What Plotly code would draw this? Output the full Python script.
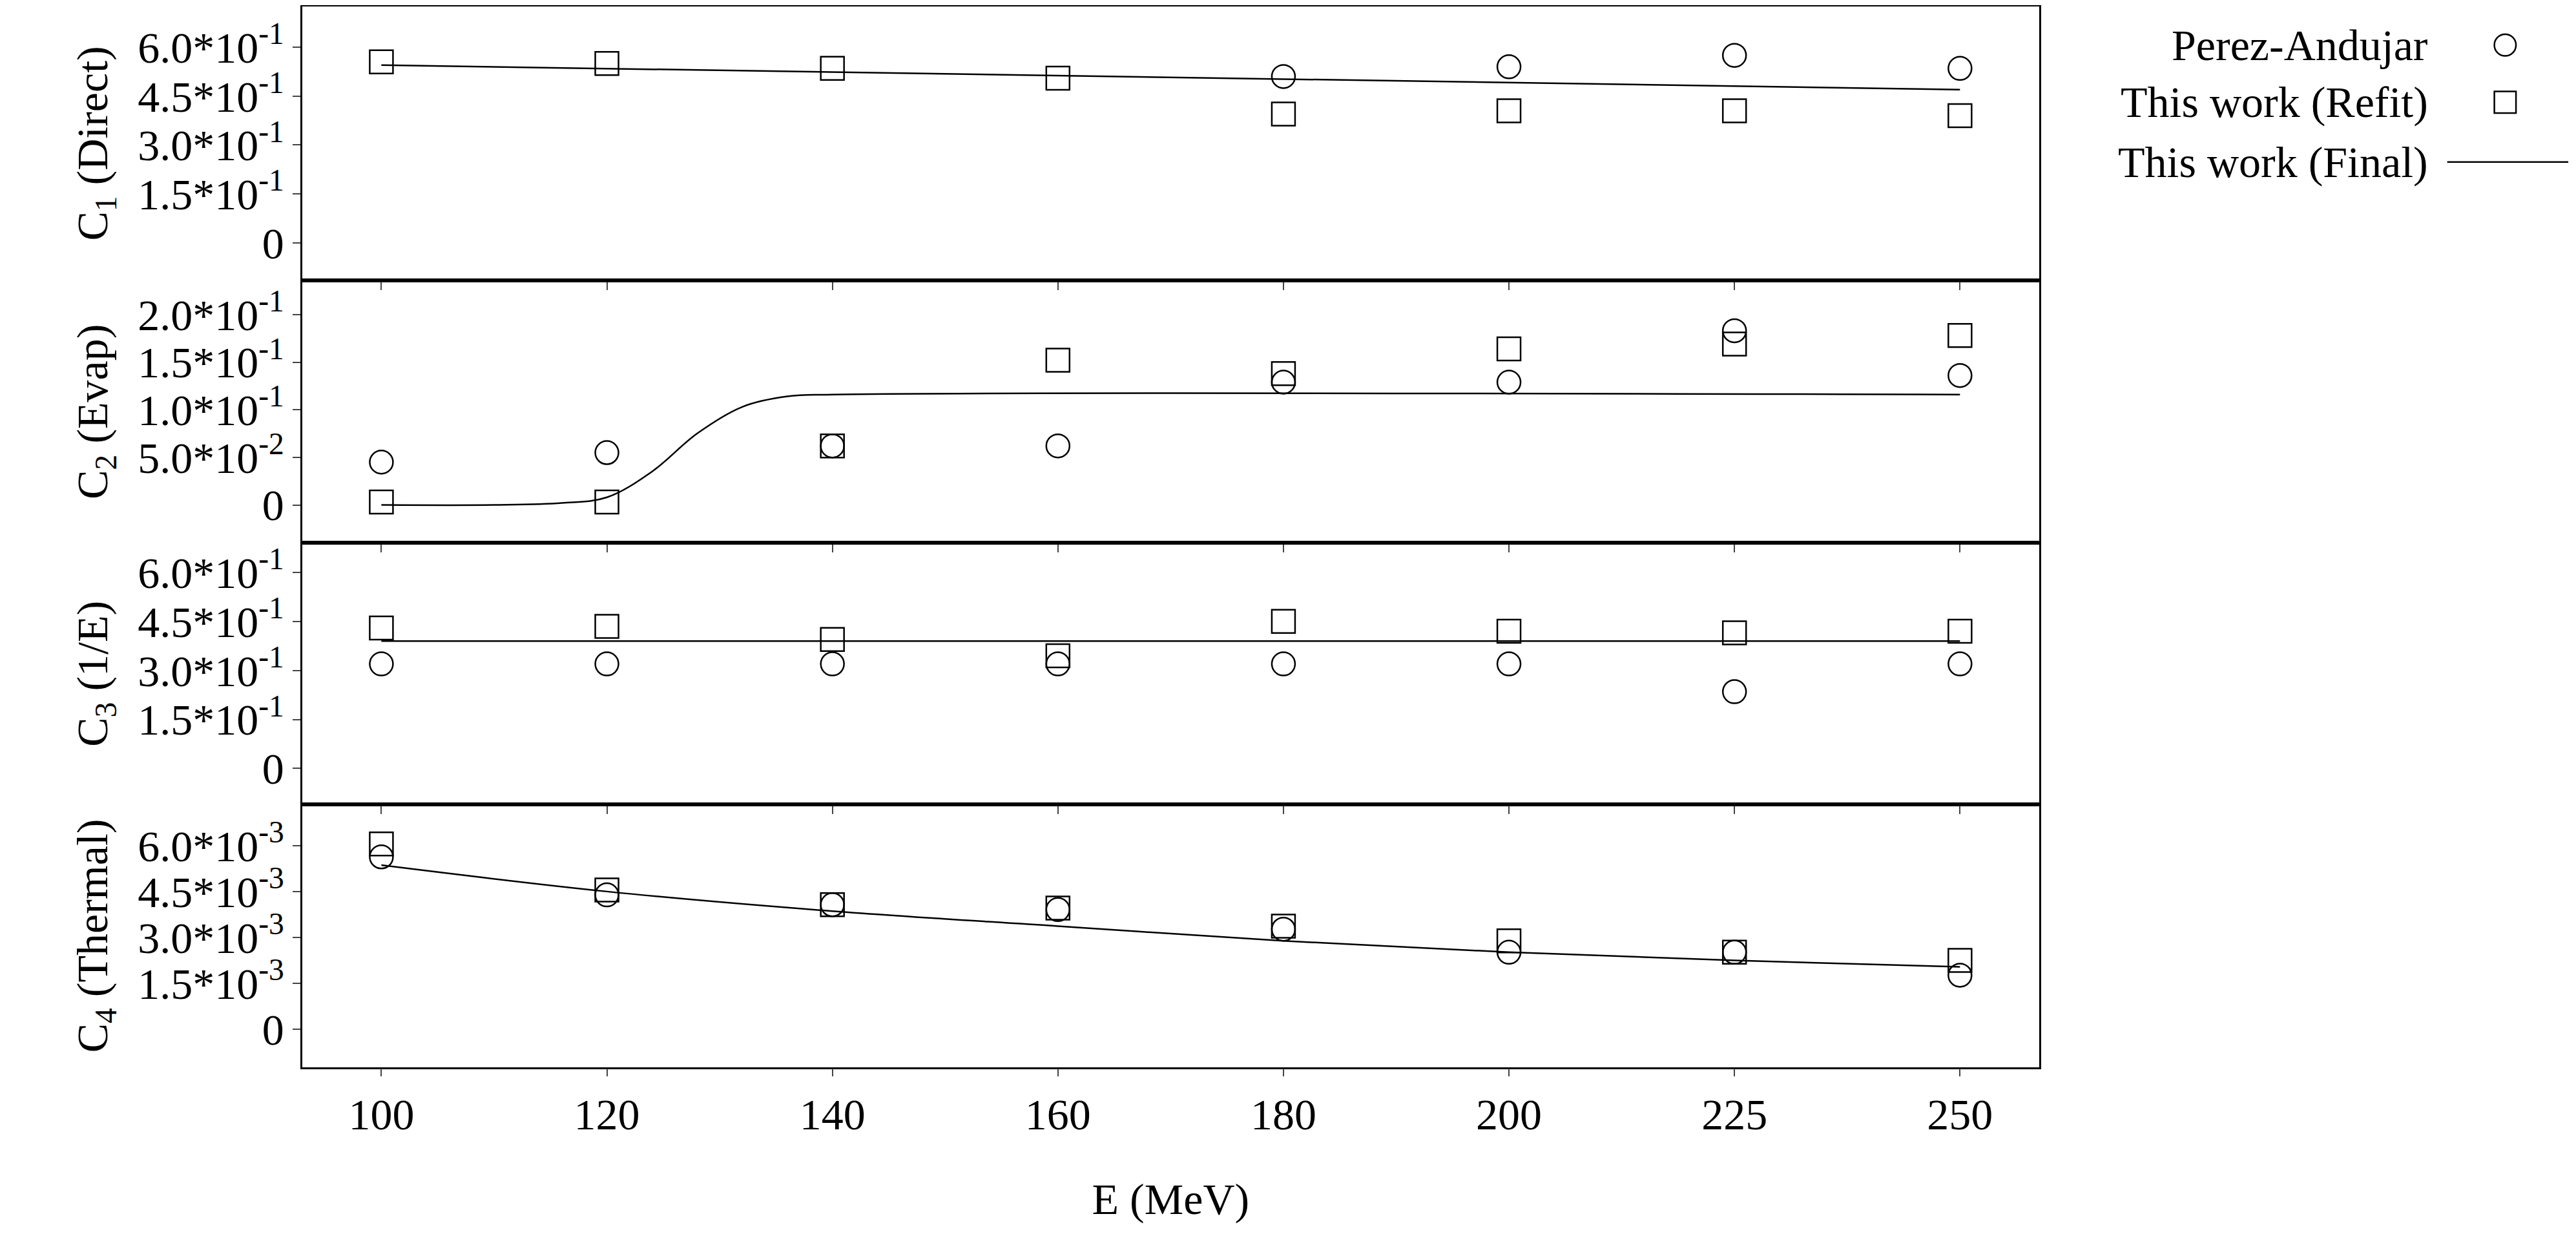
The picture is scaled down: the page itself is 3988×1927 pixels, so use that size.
import plotly.graph_objects as go

energies = ["100", "120", "140", "160", "180", "200", "225", "250"]
idx = list(range(len(energies)))

c1_refit = [0.555, 0.55, 0.535, 0.505, 0.395, 0.405, 0.405, 0.39]
c1_perez_x = [4, 5, 6, 7]
c1_perez = [0.51, 0.54, 0.575, 0.535]
c1_final_x = [0, 7]
c1_final = [0.545, 0.47]

c2_refit = [0.003, 0.003, 0.062, 0.152, 0.138, 0.164, 0.169, 0.178]
c2_perez = [0.045, 0.055, 0.062, 0.062, 0.129, 0.129, 0.183, 0.136]
c2_final_x = [0, 0.5, 0.8, 1.0, 1.2, 1.4, 1.6, 1.8, 2.0, 7]
c2_final = [0, 0, 0.002, 0.008, 0.035, 0.075, 0.103, 0.114, 0.116, 0.116]

c3_refit = [0.43, 0.435, 0.395, 0.345, 0.45, 0.42, 0.415, 0.42]
c3_perez = [0.32, 0.32, 0.32, 0.32, 0.32, 0.32, 0.235, 0.32]
c3_final_x = [0, 7]
c3_final = [0.39, 0.39]

c4_refit = [0.00605, 0.00455, 0.00407, 0.00396, 0.00337, 0.00289, 0.00252, 0.00225]
c4_perez = [0.00563, 0.00439, 0.00407, 0.00391, 0.00327, 0.00252, 0.00252, 0.00177]
c4_final_x = idx
c4_final = [0.00536, 0.0045, 0.00386, 0.00337, 0.00289, 0.00252, 0.00225, 0.00204]

panels = [
    dict(refit=c1_refit, px=c1_perez_x, perez=c1_perez, fx=c1_final_x, f=c1_final,
         rng=[-0.115, 0.725], tv=[0, 0.15, 0.3, 0.45, 0.6],
         tt=["0", "1.5*10<sup>-1</sup>", "3.0*10<sup>-1</sup>", "4.5*10<sup>-1</sup>", "6.0*10<sup>-1</sup>"],
         title="C<sub>1</sub> (Direct)"),
    dict(refit=c2_refit, px=idx, perez=c2_perez, fx=c2_final_x, f=c2_final,
         rng=[-0.04, 0.236], tv=[0, 0.05, 0.1, 0.15, 0.2],
         tt=["0", "5.0*10<sup>-2</sup>", "1.0*10<sup>-1</sup>", "1.5*10<sup>-1</sup>", "2.0*10<sup>-1</sup>"],
         title="C<sub>2</sub> (Evap)"),
    dict(refit=c3_refit, px=idx, perez=c3_perez, fx=c3_final_x, f=c3_final,
         rng=[-0.11, 0.69], tv=[0, 0.15, 0.3, 0.45, 0.6],
         tt=["0", "1.5*10<sup>-1</sup>", "3.0*10<sup>-1</sup>", "4.5*10<sup>-1</sup>", "6.0*10<sup>-1</sup>"],
         title="C<sub>3</sub> (1/E)"),
    dict(refit=c4_refit, px=idx, perez=c4_perez, fx=c4_final_x, f=c4_final,
         rng=[-0.00123, 0.00734], tv=[0, 0.0015, 0.003, 0.0045, 0.006],
         tt=["0", "1.5*10<sup>-3</sup>", "3.0*10<sup>-3</sup>", "4.5*10<sup>-3</sup>", "6.0*10<sup>-3</sup>"],
         title="C<sub>4</sub> (Thermal)"),
]

bounds = [0.999, 0.779, 0.568, 0.358, 0.147]
FONT = "Liberation Serif"
FS = 68
fig = go.Figure()
mk_c = dict(symbol="circle-open", size=36, color="black", line=dict(width=2.5))
mk_s = dict(symbol="square-open", size=36, color="black", line=dict(width=2.5))

for i, p in enumerate(panels):
    n = "" if i == 0 else str(i + 1)
    xa, ya = "x" + n, "y" + n
    fig.add_trace(go.Scatter(x=p["px"], y=p["perez"], mode="markers", marker=mk_c, xaxis=xa, yaxis=ya, showlegend=False))
    fig.add_trace(go.Scatter(x=idx, y=p["refit"], mode="markers", marker=mk_s, xaxis=xa, yaxis=ya, showlegend=False))
    fig.add_trace(go.Scatter(x=p["fx"], y=p["f"], mode="lines", line=dict(color="black", width=2.5, shape="spline"),
                             xaxis=xa, yaxis=ya, showlegend=False))
    fig.layout["xaxis" + n] = dict(domain=[0.1154, 0.7895], range=[-0.35, 7.35], anchor=ya,
                                   tickvals=idx, ticktext=energies if i == 3 else [""] * 8,
                                   showticklabels=(i == 3), ticks="outside", ticklen=12, tickwidth=2,
                                   showline=True, mirror=True, linecolor="black", linewidth=2.5,
                                   showgrid=False, zeroline=False,
                                   tickfont=dict(family=FONT, size=FS, color="black"),
                                   title=dict(text="E (MeV)", font=dict(family=FONT, size=FS, color="black"), standoff=70) if i == 3 else None)
    fig.layout["yaxis" + n] = dict(domain=[bounds[i + 1], bounds[i]], range=p["rng"], anchor=xa,
                                   tickvals=p["tv"], ticktext=p["tt"], ticks="outside", ticklen=12, tickwidth=2,
                                   showline=True, mirror=True, linecolor="black", linewidth=2.5,
                                   showgrid=False, zeroline=False,
                                   tickfont=dict(family=FONT, size=FS, color="black"),
                                   title=dict(text=p["title"], font=dict(family=FONT, size=FS, color="black"), standoff=25))

leg = [("Perez-Andujar", 0.968), ("This work (Refit)", 0.922), ("This work (Final)", 0.874)]
for t, yy in leg:
    fig.add_annotation(text=t, xref="paper", yref="paper", x=0.941, y=yy, xanchor="right", yanchor="middle",
                       showarrow=False, font=dict(family=FONT, size=FS, color="black"))
fig.add_shape(type="circle", xref="paper", yref="paper", x0=0.9705 - 0.0042, x1=0.9705 + 0.0042,
              y0=0.968 - 0.0087, y1=0.968 + 0.0087, line=dict(color="black", width=2.5))
fig.add_shape(type="rect", xref="paper", yref="paper", x0=0.9705 - 0.0042, x1=0.9705 + 0.0042,
              y0=0.922 - 0.0087, y1=0.922 + 0.0087, line=dict(color="black", width=2.5))
fig.add_shape(type="line", xref="paper", yref="paper", x0=0.948, x1=0.995, y0=0.874, y1=0.874,
              line=dict(color="black", width=2.5))

fig.update_layout(width=3988, height=1927, margin=dict(l=0, r=0, t=0, b=0),
                  plot_bgcolor="white", paper_bgcolor="white", showlegend=False,
                  font=dict(family=FONT, size=FS, color="black"))
fig.write_html("out.html")
